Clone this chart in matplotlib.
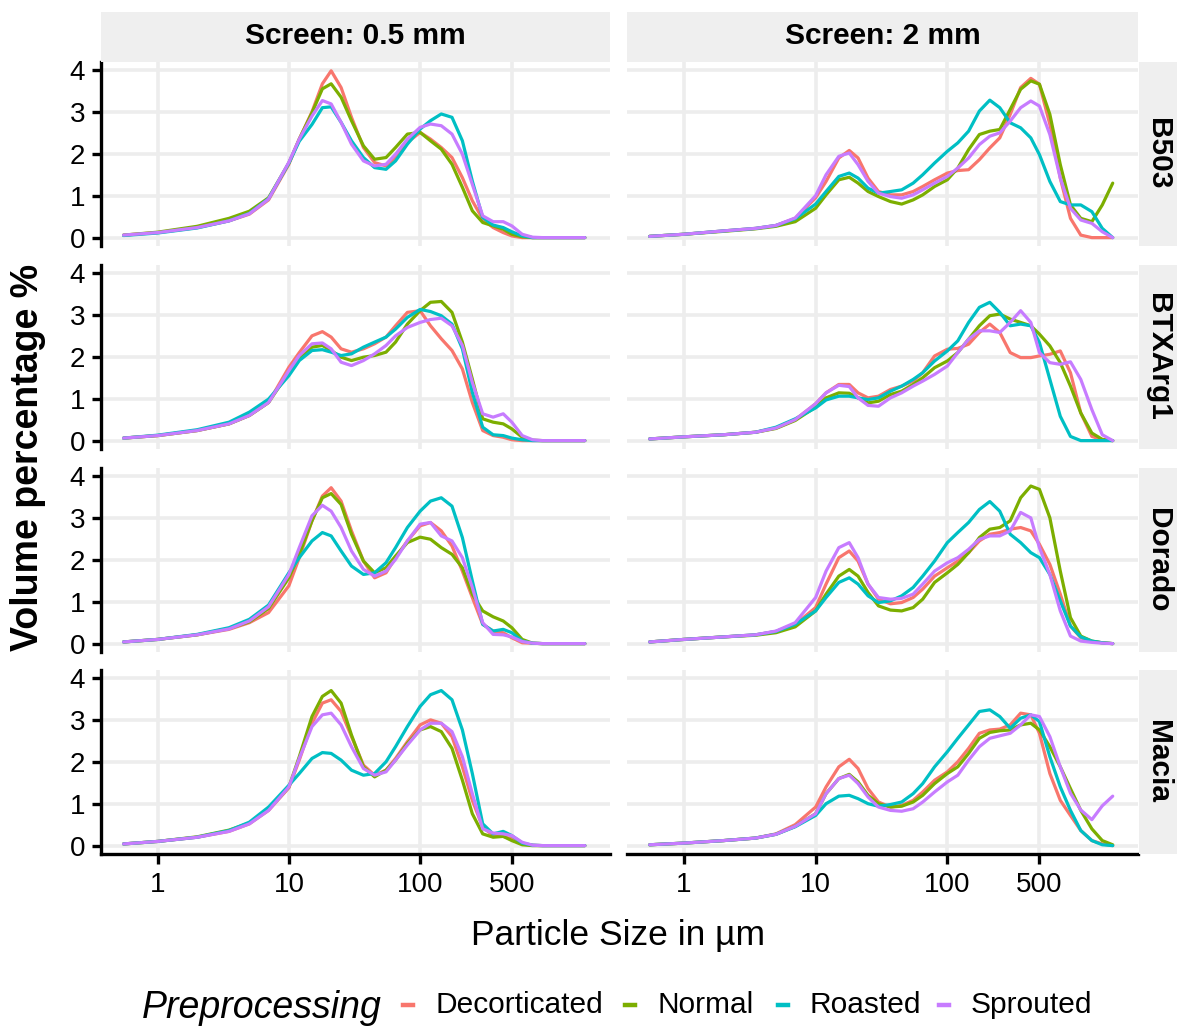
import matplotlib
matplotlib.use("Agg")
import matplotlib.pyplot as plt
from matplotlib.lines import Line2D
from matplotlib.ticker import NullLocator

plt.rcParams["font.family"] = ["Liberation Sans", "DejaVu Sans"]

# particle size classes (µm)
SIZES = [0.55, 1, 2, 3.5, 5, 7, 10, 12, 15, 18, 21, 25, 30, 37, 45, 55, 65, 80, 100,
         120, 145, 175, 210, 250, 300, 360, 430, 500, 600, 720, 860, 1030, 1250, 1500, 1800]

VARIETIES = ["B503", "BTXArg1", "Dorado", "Macia"]
SCREENS = ["Screen: 0.5 mm", "Screen: 2 mm"]
TREATMENTS = ["Decorticated", "Normal", "Roasted", "Sprouted"]
COLORS = ["#F8766D", "#7CAE00", "#00BFC4", "#C77CFF"]

X_TICKS = [1, 10, 100, 500]
Y_TICKS = [0, 1, 2, 3, 4]

# volume percentage per size class
b503_fine_dec = [0.06, 0.12, 0.24, 0.40, 0.56, 0.90, 1.75, 2.35, 3.00, 3.67, 3.98, 3.58, 2.87, 2.15, 1.79, 1.71, 1.91, 2.27, 2.51, 2.35, 2.15, 1.91, 1.43, 0.88, 0.44, 0.24, 0.12, 0.04, 0, 0, 0, 0, 0, 0, 0]
b503_fine_nor = [0.06, 0.13, 0.27, 0.46, 0.63, 0.95, 1.78, 2.35, 2.98, 3.55, 3.67, 3.35, 2.79, 2.19, 1.87, 1.91, 2.15, 2.47, 2.51, 2.31, 2.11, 1.75, 1.20, 0.64, 0.36, 0.28, 0.20, 0.08, 0.02, 0, 0, 0, 0, 0, 0]
b503_fine_ros = [0.05, 0.11, 0.23, 0.40, 0.58, 0.93, 1.78, 2.30, 2.70, 3.10, 3.12, 2.75, 2.31, 1.91, 1.67, 1.63, 1.83, 2.23, 2.59, 2.79, 2.95, 2.87, 2.31, 1.35, 0.48, 0.30, 0.24, 0.14, 0.04, 0, 0, 0, 0, 0, 0]
b503_fine_spr = [0.06, 0.12, 0.24, 0.40, 0.57, 0.92, 1.80, 2.35, 2.90, 3.27, 3.19, 2.75, 2.23, 1.83, 1.71, 1.75, 1.99, 2.35, 2.63, 2.71, 2.67, 2.47, 1.99, 1.27, 0.52, 0.38, 0.38, 0.28, 0.08, 0.01, 0, 0, 0, 0, 0]

b503_coarse_dec = [0.03, 0.08, 0.16, 0.22, 0.29, 0.46, 0.95, 1.34, 1.90, 2.08, 1.90, 1.42, 1.10, 1.02, 1.02, 1.10, 1.22, 1.38, 1.54, 1.60, 1.62, 1.86, 2.14, 2.38, 2.94, 3.58, 3.80, 3.66, 2.70, 1.42, 0.46, 0.06, 0, 0, 0]
b503_coarse_nor = [0.03, 0.08, 0.15, 0.21, 0.27, 0.38, 0.70, 1.02, 1.38, 1.44, 1.30, 1.10, 0.98, 0.86, 0.80, 0.90, 1.02, 1.22, 1.38, 1.66, 2.10, 2.46, 2.54, 2.58, 3.06, 3.54, 3.74, 3.66, 2.94, 1.74, 0.78, 0.46, 0.38, 0.78, 1.30]
b503_coarse_ros = [0.03, 0.08, 0.16, 0.22, 0.29, 0.45, 0.80, 1.10, 1.46, 1.54, 1.42, 1.18, 1.06, 1.10, 1.14, 1.30, 1.50, 1.78, 2.06, 2.26, 2.54, 3.02, 3.28, 3.10, 2.74, 2.62, 2.38, 1.98, 1.34, 0.86, 0.78, 0.78, 0.62, 0.22, 0]
b503_coarse_spr = [0.03, 0.08, 0.16, 0.22, 0.29, 0.47, 1.00, 1.50, 1.94, 2.02, 1.74, 1.34, 1.06, 0.98, 0.94, 1.02, 1.14, 1.30, 1.46, 1.66, 1.90, 2.22, 2.42, 2.50, 2.78, 3.10, 3.26, 3.14, 2.46, 1.42, 0.70, 0.42, 0.34, 0.14, 0]

btx_fine_dec = [0.06, 0.12, 0.24, 0.40, 0.60, 0.91, 1.75, 2.10, 2.50, 2.60, 2.47, 2.19, 2.11, 2.19, 2.31, 2.47, 2.74, 3.06, 3.10, 2.74, 2.43, 2.15, 1.71, 0.91, 0.24, 0.12, 0.08, 0.02, 0, 0, 0, 0, 0, 0, 0]
btx_fine_nor = [0.06, 0.12, 0.24, 0.40, 0.60, 0.91, 1.63, 1.95, 2.23, 2.27, 2.15, 1.99, 1.91, 1.99, 2.03, 2.11, 2.35, 2.78, 3.10, 3.30, 3.32, 3.06, 2.35, 1.47, 0.52, 0.44, 0.40, 0.28, 0.08, 0.01, 0, 0, 0, 0, 0]
btx_fine_ros = [0.06, 0.13, 0.26, 0.44, 0.68, 0.99, 1.55, 1.91, 2.15, 2.17, 2.11, 2.03, 2.07, 2.23, 2.35, 2.47, 2.66, 2.94, 3.13, 3.08, 2.98, 2.78, 2.19, 1.15, 0.32, 0.14, 0.12, 0.06, 0.02, 0, 0, 0, 0, 0, 0]
btx_fine_spr = [0.06, 0.12, 0.24, 0.40, 0.60, 0.91, 1.67, 2.03, 2.31, 2.33, 2.19, 1.87, 1.79, 1.91, 2.07, 2.27, 2.50, 2.70, 2.82, 2.89, 2.92, 2.74, 2.27, 1.39, 0.64, 0.56, 0.64, 0.44, 0.12, 0.02, 0, 0, 0, 0, 0]

btx_coarse_dec = [0.04, 0.09, 0.14, 0.20, 0.30, 0.50, 0.88, 1.14, 1.34, 1.34, 1.14, 1.02, 1.06, 1.22, 1.30, 1.42, 1.62, 2.02, 2.18, 2.20, 2.30, 2.58, 2.78, 2.58, 2.10, 1.98, 1.98, 2.02, 2.06, 2.14, 1.62, 0.66, 0.10, 0.02, 0]
btx_coarse_nor = [0.04, 0.09, 0.14, 0.20, 0.29, 0.48, 0.80, 1.02, 1.14, 1.13, 1.02, 0.90, 0.94, 1.10, 1.18, 1.34, 1.50, 1.74, 1.90, 2.10, 2.42, 2.74, 2.98, 3.02, 2.90, 2.82, 2.74, 2.54, 2.26, 1.86, 1.30, 0.66, 0.18, 0.03, 0]
btx_coarse_ros = [0.04, 0.09, 0.14, 0.20, 0.32, 0.52, 0.78, 0.97, 1.06, 1.06, 1.02, 0.98, 1.02, 1.18, 1.30, 1.46, 1.62, 1.90, 2.14, 2.38, 2.82, 3.18, 3.30, 3.06, 2.74, 2.78, 2.74, 2.34, 1.46, 0.58, 0.10, 0, 0, 0, 0]
btx_coarse_spr = [0.04, 0.09, 0.14, 0.20, 0.30, 0.50, 0.88, 1.14, 1.32, 1.29, 1.02, 0.84, 0.82, 1.02, 1.14, 1.30, 1.42, 1.58, 1.78, 2.10, 2.42, 2.62, 2.62, 2.58, 2.82, 3.10, 2.82, 2.10, 1.86, 1.82, 1.88, 1.46, 0.74, 0.14, 0]

dor_fine_dec = [0.04, 0.10, 0.21, 0.34, 0.50, 0.74, 1.38, 2.05, 2.93, 3.52, 3.72, 3.40, 2.69, 1.97, 1.57, 1.69, 2.05, 2.45, 2.81, 2.89, 2.69, 2.33, 1.73, 1.10, 0.46, 0.30, 0.26, 0.14, 0.02, 0.01, 0, 0, 0, 0, 0]
dor_fine_nor = [0.04, 0.10, 0.21, 0.36, 0.52, 0.84, 1.57, 2.13, 2.93, 3.48, 3.58, 3.32, 2.61, 1.97, 1.69, 1.81, 2.09, 2.41, 2.54, 2.49, 2.29, 2.13, 1.81, 1.18, 0.78, 0.64, 0.54, 0.38, 0.10, 0.01, 0, 0, 0, 0, 0]
dor_fine_ros = [0.04, 0.10, 0.22, 0.38, 0.58, 0.92, 1.69, 2.05, 2.45, 2.65, 2.57, 2.21, 1.85, 1.65, 1.69, 1.93, 2.29, 2.77, 3.16, 3.40, 3.48, 3.28, 2.53, 1.50, 0.46, 0.30, 0.34, 0.26, 0.06, 0.01, 0, 0, 0, 0, 0]
dor_fine_spr = [0.04, 0.10, 0.21, 0.35, 0.54, 0.88, 1.65, 2.29, 3.05, 3.30, 3.16, 2.77, 2.21, 1.77, 1.61, 1.73, 2.01, 2.45, 2.85, 2.89, 2.57, 2.45, 2.05, 1.34, 0.50, 0.22, 0.21, 0.16, 0.05, 0.01, 0, 0, 0, 0, 0]

dor_coarse_dec = [0.04, 0.10, 0.16, 0.21, 0.29, 0.46, 0.86, 1.42, 2.05, 2.21, 1.97, 1.42, 1.06, 0.95, 0.98, 1.10, 1.30, 1.61, 1.81, 1.97, 2.17, 2.45, 2.61, 2.65, 2.73, 2.77, 2.69, 2.37, 1.89, 1.18, 0.42, 0.14, 0.05, 0.02, 0]
dor_coarse_nor = [0.04, 0.10, 0.16, 0.20, 0.26, 0.40, 0.78, 1.18, 1.61, 1.77, 1.61, 1.22, 0.90, 0.80, 0.78, 0.86, 1.06, 1.46, 1.69, 1.89, 2.17, 2.53, 2.73, 2.77, 2.93, 3.48, 3.76, 3.68, 3.00, 1.73, 0.62, 0.18, 0.06, 0.02, 0]
dor_coarse_ros = [0.04, 0.10, 0.16, 0.21, 0.29, 0.46, 0.78, 1.10, 1.46, 1.57, 1.42, 1.14, 0.98, 1.02, 1.14, 1.34, 1.61, 1.97, 2.41, 2.65, 2.89, 3.20, 3.39, 3.16, 2.61, 2.41, 2.17, 2.05, 1.65, 1.02, 0.42, 0.16, 0.06, 0.02, 0]
dor_coarse_spr = [0.04, 0.10, 0.16, 0.21, 0.30, 0.50, 1.10, 1.73, 2.29, 2.41, 2.05, 1.42, 1.10, 1.06, 1.08, 1.18, 1.42, 1.73, 1.93, 2.05, 2.25, 2.49, 2.57, 2.57, 2.69, 3.13, 3.00, 2.29, 1.65, 0.78, 0.18, 0.06, 0.03, 0.01, 0]

mac_fine_dec = [0.04, 0.10, 0.20, 0.34, 0.52, 0.84, 1.38, 2.04, 2.92, 3.40, 3.48, 3.20, 2.60, 1.92, 1.68, 1.80, 2.08, 2.48, 2.88, 3.00, 2.92, 2.60, 1.88, 1.08, 0.44, 0.24, 0.22, 0.16, 0.04, 0.01, 0, 0, 0, 0, 0]
mac_fine_nor = [0.04, 0.10, 0.21, 0.37, 0.54, 0.86, 1.40, 2.12, 3.08, 3.56, 3.70, 3.40, 2.64, 1.88, 1.64, 1.80, 2.04, 2.44, 2.76, 2.84, 2.72, 2.32, 1.56, 0.76, 0.28, 0.20, 0.22, 0.12, 0.02, 0, 0, 0, 0, 0, 0]
mac_fine_ros = [0.04, 0.10, 0.20, 0.36, 0.56, 0.92, 1.44, 1.72, 2.08, 2.22, 2.20, 2.04, 1.80, 1.68, 1.72, 2.00, 2.36, 2.84, 3.32, 3.60, 3.70, 3.48, 2.76, 1.72, 0.52, 0.28, 0.34, 0.24, 0.06, 0.01, 0, 0, 0, 0, 0]
mac_fine_spr = [0.04, 0.10, 0.20, 0.34, 0.52, 0.84, 1.40, 2.08, 2.84, 3.12, 3.16, 2.88, 2.36, 1.84, 1.68, 1.76, 2.04, 2.40, 2.76, 2.92, 2.92, 2.72, 2.12, 1.24, 0.40, 0.30, 0.28, 0.24, 0.08, 0.01, 0, 0, 0, 0, 0]

mac_coarse_dec = [0.02, 0.06, 0.12, 0.18, 0.28, 0.50, 0.92, 1.40, 1.88, 2.06, 1.84, 1.36, 1.04, 0.92, 0.96, 1.08, 1.28, 1.56, 1.76, 2.00, 2.32, 2.68, 2.76, 2.78, 2.88, 3.16, 3.12, 2.68, 1.72, 1.08, 0.72, 0.36, 0.12, 0.04, 0]
mac_coarse_nor = [0.02, 0.06, 0.12, 0.18, 0.27, 0.46, 0.76, 1.24, 1.60, 1.70, 1.52, 1.20, 1.00, 0.92, 0.94, 1.04, 1.20, 1.48, 1.72, 1.88, 2.20, 2.56, 2.70, 2.74, 2.76, 2.88, 2.92, 2.76, 2.36, 1.88, 1.36, 0.84, 0.40, 0.12, 0.02]
mac_coarse_ros = [0.02, 0.06, 0.12, 0.18, 0.27, 0.45, 0.72, 1.00, 1.18, 1.20, 1.12, 1.00, 0.94, 0.98, 1.04, 1.24, 1.48, 1.88, 2.24, 2.56, 2.88, 3.20, 3.24, 3.08, 2.80, 3.04, 3.12, 2.96, 2.12, 1.40, 0.84, 0.36, 0.12, 0.02, 0]
mac_coarse_spr = [0.02, 0.06, 0.12, 0.18, 0.27, 0.46, 0.76, 1.24, 1.60, 1.68, 1.48, 1.16, 0.92, 0.84, 0.82, 0.88, 1.04, 1.28, 1.52, 1.68, 2.04, 2.36, 2.56, 2.62, 2.68, 2.88, 3.12, 3.08, 2.60, 1.88, 1.25, 0.85, 0.62, 0.95, 1.18]

panels = {
    ("B503", 0): [b503_fine_dec, b503_fine_nor, b503_fine_ros, b503_fine_spr],
    ("B503", 1): [b503_coarse_dec, b503_coarse_nor, b503_coarse_ros, b503_coarse_spr],
    ("BTXArg1", 0): [btx_fine_dec, btx_fine_nor, btx_fine_ros, btx_fine_spr],
    ("BTXArg1", 1): [btx_coarse_dec, btx_coarse_nor, btx_coarse_ros, btx_coarse_spr],
    ("Dorado", 0): [dor_fine_dec, dor_fine_nor, dor_fine_ros, dor_fine_spr],
    ("Dorado", 1): [dor_coarse_dec, dor_coarse_nor, dor_coarse_ros, dor_coarse_spr],
    ("Macia", 0): [mac_fine_dec, mac_fine_nor, mac_fine_ros, mac_fine_spr],
    ("Macia", 1): [mac_coarse_dec, mac_coarse_nor, mac_coarse_ros, mac_coarse_spr],
}

W, H = 1187, 1030
GRID = "#EDEDED"
STRIP = "#EFEFEF"


def box(x, y, w, h):
    # pixel box (top-left origin) -> figure fraction
    return [x / W, 1 - (y + h) / H, w / W, h / H]


def blank(ax):
    ax.set_xticks([])
    ax.set_yticks([])
    for s in ax.spines.values():
        s.set_visible(False)


col_x = [(101, 509), (627, 511)]
row_y = [62, 265, 468, 670]
panel_h = 184

fig = plt.figure(figsize=(W / 100, H / 100), dpi=100)

for r, variety in enumerate(VARIETIES):
    for c in range(2):
        x0, w = col_x[c]
        ax = fig.add_axes(box(x0, row_y[r], w, panel_h))
        for vals, col in zip(panels[(variety, c)], COLORS):
            ax.plot(SIZES, vals, color=col, lw=2.3, solid_joinstyle="round",
                    solid_capstyle="round")
        ax.set_xscale("log")
        ax.set_xlim(0.37, 2800)
        ax.set_ylim(-0.2, 4.19)
        ax.set_xticks(X_TICKS)
        ax.set_xticklabels([str(t) for t in X_TICKS])
        ax.xaxis.set_minor_locator(NullLocator())
        ax.set_yticks(Y_TICKS)
        ax.grid(True, color=GRID, lw=2.6)
        ax.set_axisbelow(True)
        for s in ax.spines.values():
            s.set_visible(False)
        if c == 0:
            ax.spines["left"].set_visible(True)
            ax.spines["left"].set_linewidth(2.4)
            ax.tick_params(axis="y", length=6.5, width=2.4, labelsize=20, pad=5)
        else:
            ax.tick_params(axis="y", length=0, labelleft=False)
        if r == len(VARIETIES) - 1:
            ax.spines["bottom"].set_visible(True)
            ax.spines["bottom"].set_linewidth(2.4)
            ax.tick_params(axis="x", length=7, width=2.4, labelsize=20, pad=6)
        else:
            ax.tick_params(axis="x", length=0, labelbottom=False)

        # facet strips
        if r == 0:
            sax = fig.add_axes(box(x0, 12, w, 50))
            sax.set_facecolor(STRIP)
            blank(sax)
            sax.text(0.5, 0.52, SCREENS[c], ha="center", va="center",
                     fontsize=21.5, fontweight="bold", transform=sax.transAxes)
        if c == 1:
            sax = fig.add_axes(box(1139, row_y[r], 38, panel_h))
            sax.set_facecolor(STRIP)
            blank(sax)
            sax.text(0.5, 0.5, variety, ha="center", va="center", rotation=-90,
                     fontsize=21.5, fontweight="bold", transform=sax.transAxes)

fig.text(28 / W, 1 - 457 / H, "Volume percentage %", rotation=90, ha="center",
         va="center", fontsize=27, fontweight="bold")
fig.text(618 / W, 1 - 935 / H, "Particle Size in µm", ha="center", va="center",
         fontsize=25.5)

# legend row along the bottom: title, then a short coloured key before each label
legend_y = 1 - 1005 / H
fig.text(262 / W, 1 - 1008 / H, "Preprocessing", ha="center", va="center",
         fontsize=27, style="italic")
key_x = [408, 630, 783, 944]
for kx, col, name in zip(key_x, COLORS, TREATMENTS):
    fig.add_artist(Line2D([(kx - 5) / W, (kx + 5) / W], [legend_y, legend_y],
                          color=col, lw=3.2, transform=fig.transFigure))
    fig.text((kx + 27) / W, legend_y, name, ha="left", va="center", fontsize=21.5)

fig.savefig("out.png", dpi=100, facecolor="white")
